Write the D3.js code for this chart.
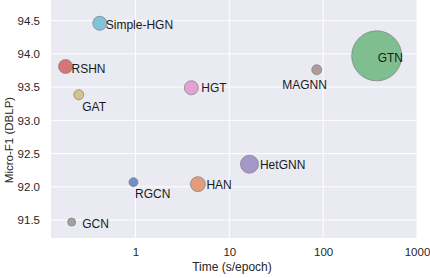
<!DOCTYPE html>
<html>
<head>
<meta charset="utf-8">
<script src="https://cdn.jsdelivr.net/npm/d3@7"></script>
<style>
body { margin: 0; background: #fff; }
text { font-family: "Liberation Sans", Arial, sans-serif; }
</style>
</head>
<body>
<svg id="chart" width="430" height="278"></svg>
<script>
// values
var models = ["Simple-HGN", "RSHN", "GAT", "HGT", "MAGNN", "GTN", "GCN", "RGCN", "HAN", "HetGNN"];
var times = [0.417, 0.18, 0.249, 3.94, 85.5, 372, 0.209, 0.953, 4.63, 16.4];
var microF1 = [94.46, 93.81, 93.385, 93.49, 93.76, 93.97, 91.47, 92.07, 92.04, 92.34];
var sizes = [49, 49, 25, 49, 25, 625, 16, 20, 56, 81];
var xTicks = [1, 10, 100, 1000];
var yTicks = [91.5, 92.0, 92.5, 93.0, 93.5, 94.0, 94.5];

// styling
var colors = ["#82c3da", "#d57576", "#d6c38c", "#e3a2d2", "#a3a0a0", "#7fbf8f", "#a2a2a2", "#6f8fc6", "#e39d7b", "#a398c8"];
var labelOffsets = [[6, 6], [6, 6.5], [3.5, 16.5], [10, 4.5], [-34.5, 19], [1, 6.5], [10.5, 6], [1.5, 16], [8.5, 4.5], [10.5, 4.5]];

var margin = {top: 0, right: 13, bottom: 40, left: 51};
var width = 430 - margin.left - margin.right;
var height = 278 - margin.top - margin.bottom;

var svg = d3.select("#chart");
var g = svg.append("g")
    .attr("transform", "translate(" + margin.left + "," + margin.top + ")");

var xScale = d3.scaleLog()
    .domain([0.126, 1000])
    .range([0, width]);
var yScale = d3.scaleLinear()
    .domain([91.23, 94.81])
    .range([height, 0]);
var rScale = d3.scaleSqrt()
    .domain([0, 625])
    .range([0, 25]);

g.append("rect")
    .attr("width", width)
    .attr("height", height)
    .style("fill", "#eaeaf2");

// grid
g.selectAll(".xgrid")
    .data(xTicks)
    .enter().append("line")
    .attr("x1", function (d) { return xScale(d); })
    .attr("x2", function (d) { return xScale(d); })
    .attr("y1", 0)
    .attr("y2", height)
    .style("stroke", "#fff")
    .style("stroke-width", 1);

g.selectAll(".ygrid")
    .data(yTicks)
    .enter().append("line")
    .attr("x1", 0)
    .attr("x2", width)
    .attr("y1", function (d) { return yScale(d); })
    .attr("y2", function (d) { return yScale(d); })
    .style("stroke", "#fff")
    .style("stroke-width", 1);

// axes (text only, seaborn style)
var xAxis = d3.axisBottom(xScale)
    .tickValues(xTicks)
    .tickFormat(d3.format("d"))
    .tickSize(0)
    .tickPadding(10);
var yAxis = d3.axisLeft(yScale)
    .tickValues(yTicks)
    .tickFormat(d3.format(".1f"))
    .tickSize(0)
    .tickPadding(11);

var gx = g.append("g")
    .attr("transform", "translate(0," + height + ")")
    .call(xAxis);
var gy = g.append("g").call(yAxis);

[gx, gy].forEach(function (a) {
    a.select(".domain").remove();
    a.selectAll("text")
        .style("font-family", "'Liberation Sans', Arial, sans-serif")
        .style("font-size", "11.5px")
        .style("fill", "#262626");
});

svg.append("text")
    .attr("x", 232)
    .attr("y", 271)
    .attr("text-anchor", "middle")
    .style("font-size", "12px")
    .style("fill", "#262626")
    .text("Time (s/epoch)");

svg.append("text")
    .attr("transform", "translate(13,140) rotate(-90)")
    .attr("text-anchor", "middle")
    .style("font-size", "11.5px")
    .style("fill", "#262626")
    .text("Micro-F1 (DBLP)");

// bubbles
var idx = d3.range(models.length);

g.selectAll(".bubble")
    .data(idx)
    .enter().append("circle")
    .attr("cx", function (i) { return xScale(times[i]); })
    .attr("cy", function (i) { return yScale(microF1[i]); })
    .attr("r", function (i) { return rScale(sizes[i]); })
    .style("fill", function (i) { return colors[i]; })
    .style("stroke", "#7d7d7d")
    .style("stroke-width", 0.7);

// MAGNN has a small pinkish dot inside
var m = models.indexOf("MAGNN");
g.append("circle")
    .attr("cx", xScale(times[m]))
    .attr("cy", yScale(microF1[m]))
    .attr("r", 2)
    .style("fill", "#d98a8a")
    .style("opacity", 0.8);

g.selectAll(".label")
    .data(idx)
    .enter().append("text")
    .attr("x", function (i) { return xScale(times[i]) + labelOffsets[i][0]; })
    .attr("y", function (i) { return yScale(microF1[i]) + labelOffsets[i][1]; })
    .style("font-size", "12px")
    .style("fill", "#1a1a1a")
    .text(function (i) { return models[i]; });
</script>
</body>
</html>
